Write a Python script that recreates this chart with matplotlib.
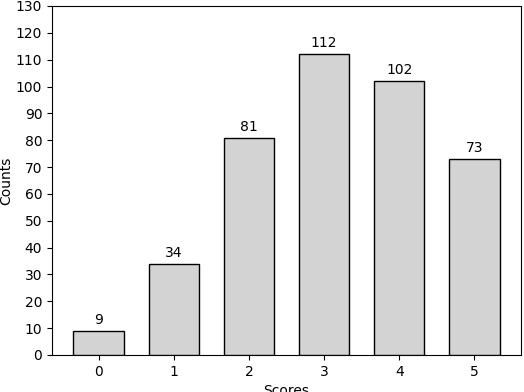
import matplotlib
matplotlib.use("Agg")
import matplotlib.pyplot as plt

scores = [0, 1, 2, 3, 4, 5]
counts = [9, 34, 81, 112, 102, 73]

fig = plt.figure(figsize=(5.24, 3.92), dpi=100)
ax = fig.add_axes([52/524, 1 - 355/392, (521-52)/524, (355-6)/392])
bars = ax.bar(scores, counts, width=0.67, color="lightgray", edgecolor="black", linewidth=1.0, zorder=3)
for x, c in zip(scores, counts):
    ax.text(x, c + 1.5, str(c), ha="center", va="bottom", fontsize=10, zorder=2)
ax.set_ylim(0, 130)
ax.set_yticks(range(0, 131, 10))
ax.set_xticks(scores)
ax.set_xlabel("Scores")
ax.set_ylabel("Counts", labelpad=2)
fig.savefig("out.png", dpi=100)
